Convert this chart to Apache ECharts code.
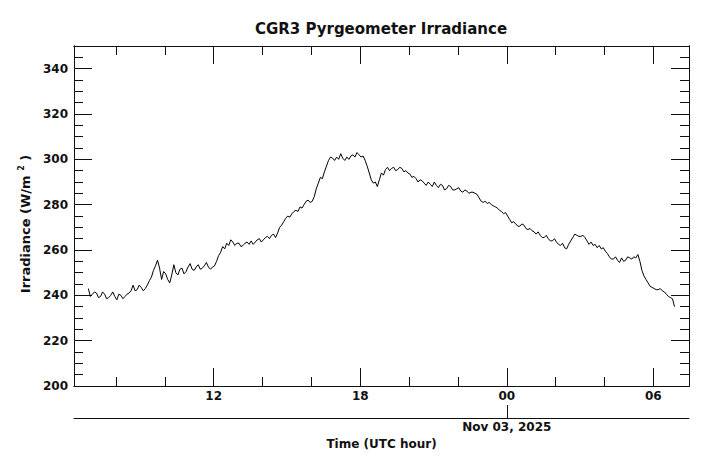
<!DOCTYPE html>
<html>
<head>
<meta charset="utf-8">
<script src="https://cdn.jsdelivr.net/npm/echarts@6/dist/echarts.min.js"></script>
<style>
html,body{margin:0;padding:0;background:#fff;}
#c{width:711px;height:467px;}
</style>
</head>
<body>
<div id="c"></div>
<script>
// Sampling: hours since 2025-11-02 00:00 UTC, 5-minute steps
var startHour = 6 + 52 / 60;
var stepHour = 5 / 60;
// Irradiance (W/m^2)
var irradiance = [
  243, 239.5, 240.5, 241.5, 241, 239, 239.5, 241.5, 240.5, 238.5,
  239, 240, 241.5, 239.5, 238, 240.5, 240, 238.5, 239.5, 240.5,
  241, 242, 244.5, 242, 242.5, 244.5, 243.5, 242, 243, 244.5,
  246.5, 248, 251, 253, 255.5, 252, 247, 250.5, 249.5, 247,
  245.5, 249, 253.5, 250, 249, 251.5, 252, 249.5, 250.5, 252.5,
  254, 251.5, 251, 252.5, 253.5, 251.5, 252, 253, 254.5, 252.5,
  251.5, 252.5, 253, 255, 257.5, 259, 261.5, 260.5, 263, 262,
  264.5, 263.5, 262, 263, 263, 261.5, 262, 263, 263.5, 262.5,
  264, 262.5, 263.5, 264.5, 265, 263.5, 264.5, 265.5, 266, 265,
  266.5, 267, 265.5, 267.5, 270, 271, 272.5, 274, 275, 274.5,
  276, 277, 277.5, 277, 279, 278.5, 280, 281.5, 282, 281,
  281.5, 283.5, 287, 289.5, 292, 291.5, 294.5, 297, 299.5, 301,
  300.5, 299.5, 301, 300, 302.5, 300.5, 299.5, 301, 300, 301.5,
  302, 301, 303, 302, 301, 301.5, 299.5, 297, 294, 291,
  289.5, 290, 288, 291, 294, 293, 295.5, 296.5, 295, 296,
  296.5, 295, 295.5, 296.5, 296, 294.5, 295, 294, 293.5, 292,
  292.5, 291.5, 290, 291, 290.5, 289.5, 288.5, 290, 289, 288,
  290, 288.5, 287.5, 289, 288.5, 286.5, 287, 288.5, 288, 286.5,
  286.5, 287, 287.5, 286, 285.5, 286.5, 286, 285, 285.5, 285.5,
  285, 284.5, 283, 281.5, 281, 281.5, 280.5, 281, 280, 279.5,
  279, 278.5, 277.5, 277, 276, 276.5, 275, 273.5, 272, 272.5,
  271.5, 270.5, 270.5, 271.5, 271, 269.5, 269, 269.5, 268.5, 268,
  267, 268, 266.5, 265.5, 265.5, 266.5, 265, 264, 264, 265,
  263.5, 262.5, 262, 263, 261, 260.5, 262.5, 264, 265.5, 267,
  266.5, 266, 266, 266.5, 265.5, 264, 262.5, 263.5, 262, 262.5,
  261, 262, 260.5, 261, 259.5, 258.5, 257, 256, 256, 257,
  255.5, 254.5, 256.5, 255, 255.5, 257, 256.5, 256, 257, 256.5,
  258, 255, 251, 248.5, 247, 245.5, 244, 243.5, 243, 242.5,
  242.5, 243, 242, 241.5, 240.5, 239.5, 239, 238.5, 235
];
var xMin = 6.28, xMax = 31.46;
var xMajor = [12, 18, 24, 30];
var xMinor = [8, 10, 14, 16, 20, 22, 26, 28];
var yMin = 200, yMax = 350;
var yMajor = [200, 220, 240, 260, 280, 300, 320, 340];
var yMinor = [205, 210, 215, 225, 230, 235, 245, 250, 255, 265, 270, 275, 285, 290, 295, 305, 310, 315, 325, 330, 335, 345];
var dateTickHour = [24];
var dateLabel = 'Nov 03, 2025';
var titleText = 'CGR3 Pyrgeometer Irradiance';
var xName = 'Time (UTC hour)';
var yNameMain = 'Irradiance (W/m';
var yNameSup = '2';
var yNameEnd = ')';

var points = irradiance.map(function (v, i) { return [startHour + i * stepHour, v]; });

var FONT = 'DejaVu Sans';
var INK = '#111';
function pad(v) { var h = ((v % 24) + 24) % 24; return (h < 10 ? '0' : '') + h; }

function xAx(pos, ticks, len, labels, extra) {
  var a = {
    type: 'value', position: pos, min: xMin, max: xMax,
    axisLine: { show: true, lineStyle: { color: INK, width: 1 } },
    axisTick: { show: true, inside: true, length: len, customValues: ticks, lineStyle: { color: INK, width: 1 } },
    axisLabel: labels ? { show: true, customValues: labels, formatter: pad, color: INK, fontFamily: FONT, fontWeight: 'bold', fontSize: 12, margin: 4 } : { show: false },
    splitLine: { show: false }, minorTick: { show: false }
  };
  if (extra) for (var k in extra) a[k] = extra[k];
  return a;
}
function yAx(pos, ticks, len, labels, extra) {
  var a = {
    type: 'value', position: pos, min: yMin, max: yMax,
    axisLine: { show: true, lineStyle: { color: INK, width: 1 } },
    axisTick: { show: true, inside: true, length: len, customValues: ticks, lineStyle: { color: INK, width: 1 } },
    axisLabel: labels ? { show: true, customValues: labels, color: INK, fontFamily: FONT, fontWeight: 'bold', fontSize: 12, margin: 6 } : { show: false },
    splitLine: { show: false }
  };
  if (extra) for (var k in extra) a[k] = extra[k];
  return a;
}

var chart = echarts.init(document.getElementById('c'), null, { renderer: 'svg' });
chart.setOption({
  animation: false,
  backgroundColor: '#fff',
  title: {
    text: titleText, left: 376, top: 16, textAlign: 'center',
    textStyle: { fontFamily: FONT, fontWeight: 'bold', fontSize: 15, color: INK }
  },
  grid: { left: 74, top: 46, right: 22, bottom: 81, containLabel: false },
  xAxis: [
    xAx('bottom', xMajor, 18, xMajor),
    xAx('bottom', xMinor, 9, null),
    xAx('top', xMajor, 18, null),
    xAx('top', xMinor, 9, null),
    {
      type: 'value', position: 'bottom', offset: 32, min: xMin, max: xMax,
      axisLine: { show: true, lineStyle: { color: INK, width: 1 } },
      axisTick: { show: true, inside: true, length: 13, customValues: dateTickHour, lineStyle: { color: INK, width: 1 } },
      axisLabel: { show: true, customValues: dateTickHour, formatter: function () { return dateLabel; }, color: INK, fontFamily: FONT, fontWeight: 'bold', fontSize: 12, margin: 3 },
      splitLine: { show: false },
      name: xName, nameLocation: 'middle', nameGap: 16,
      nameTextStyle: { fontFamily: FONT, fontWeight: 'bold', fontSize: 12, color: INK, verticalAlign: 'top' }
    }
  ],
  yAxis: [
    yAx('left', yMajor, 18, yMajor, {
      name: '{a|' + yNameMain + '} {s|' + yNameSup + '} {a|' + yNameEnd + '}',
      nameLocation: 'middle', nameGap: 38, nameRotate: 90,
      nameTextStyle: {
        fontFamily: FONT, fontWeight: 'bold', fontSize: 13, color: INK,
        padding: [0, 16, 0, 0],
        rich: {
          a: { fontFamily: FONT, fontWeight: 'bold', fontSize: 13, color: INK, lineHeight: 16 },
          s: { fontFamily: FONT, fontWeight: 'bold', fontSize: 8, color: INK, verticalAlign: 'top', lineHeight: 16, padding: [0, 0, 6, 0] }
        }
      }
    }),
    yAx('left', yMinor, 9, null),
    yAx('right', yMajor, 18, null),
    yAx('right', yMinor, 9, null)
  ],
  series: [{
    type: 'line', xAxisIndex: 0, yAxisIndex: 0, data: points,
    showSymbol: false, symbol: 'none', silent: true,
    lineStyle: { color: '#000', width: 1 }
  }]
});
</script>
</body>
</html>
